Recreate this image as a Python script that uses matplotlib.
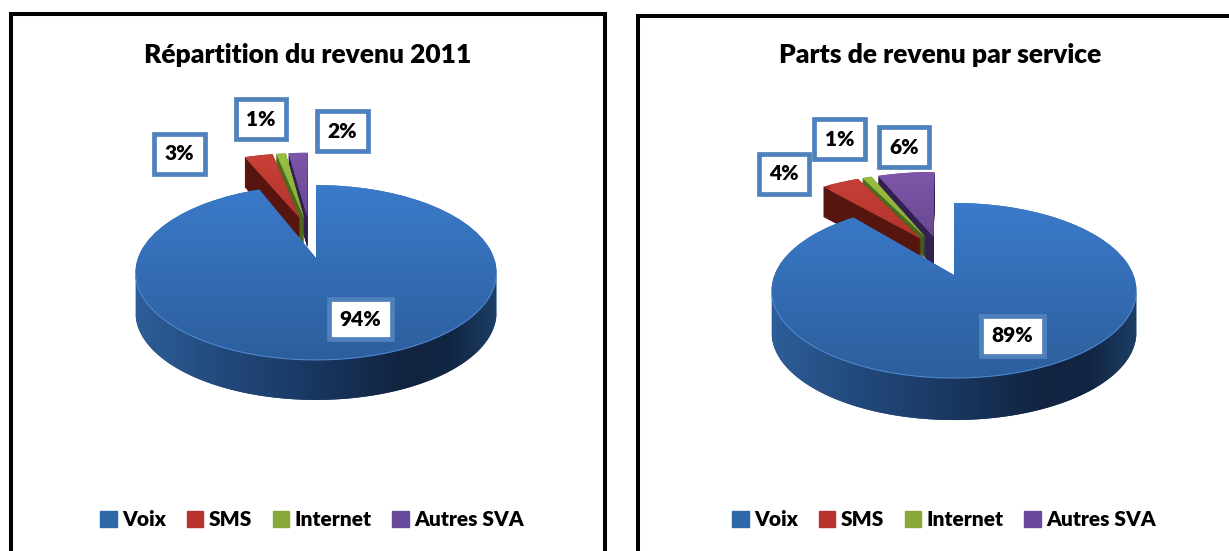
import numpy as np
import matplotlib
matplotlib.use("Agg")
import matplotlib.pyplot as plt
from matplotlib.transforms import Transform, Affine2D
from matplotlib.patches import Polygon, Patch
from matplotlib.colors import to_rgb

categories = ["Voix", "SMS", "Internet", "Autres SVA"]
values_left = [94, 3, 1, 2]
values_right = [89, 4, 1, 6]
title_left = "Répartition du revenu 2011"
title_right = "Parts de revenu par service"

top_grad = [("#3b7bcb", "#2c5e9c"), ("#cc4339", "#a92f28"), ("#9cc243", "#7fa335"), ("#8258ad", "#5e4487")]
side_cols = ["#1c3d6b", "#57150f", "#4c6a1d", "#33204f"]
leg_cols = ["#2f68a8", "#b5322e", "#88a93a", "#6a4a9a"]
side_stops = ["#2d5e98", "#234c80", "#1b3a66", "#11233f", "#122644", "#1d3e66"]
frame_blue = "#4f81bd"

plt.rcParams["font.family"] = ["Lato", "DejaVu Sans"]
plt.rcParams["font.weight"] = "heavy"


class Persp(Transform):
    input_dims = output_dims = 2
    has_inverse = False
    is_separable = False

    def __init__(self, cx, cy, b, a, k):
        super().__init__()
        self.p = (cx, cy, b, a, k)

    def transform_non_affine(self, v):
        v = np.asarray(v, float)
        cx, cy, b, a, k = self.p
        d = 1 + k * v[:, 1]
        return np.column_stack([cx + b * v[:, 0] / d, cy - a * v[:, 1] / d])


def grad(ax, c0, c1, extent, clip, z):
    c0, c1 = np.array(to_rgb(c0)), np.array(to_rgb(c1))
    t = np.linspace(0, 1, 64)[:, None, None]
    arr = c0[None, None, :] * (1 - t) + c1[None, None, :] * t
    im = ax.imshow(arr, extent=extent, origin="upper", aspect="auto", zorder=z, interpolation="bilinear")
    im.set_clip_path(clip)
    return im


def panel(pos, xlim, values, title, title_x, main, small, depth, labels_xy, frame, legend_x):
    fig_w = 1229
    ax = fig.add_axes([pos / fig_w, 0, (xlim[1] - xlim[0]) / fig_w, 1])
    z = 2
    e = 0.2
    explode = [0, e, e, e]
    P_main = Persp(*main)
    P_small = Persp(*small)

    def draw_pie():
        return ax.pie(values, explode=explode, startangle=90, counterclock=False,
                      colors=leg_cols, radius=1)[0]

    # extruded sides of the small slices, back to front
    for d in np.arange(30, 0, -0.5):
        w = draw_pie()
        w[0].remove()
        for i in (1, 2, 3):
            w[i].set_transform(P_small + Affine2D().translate(0, d) + ax.transData)
            w[i].set(facecolor=side_cols[i], edgecolor="none", linewidth=0, zorder=z)
    z += 1

    # small slices, top faces
    w = draw_pie()
    w[0].remove()
    for i in (3, 2, 1):
        w[i].set_transform(P_small + ax.transData)
        w[i].set(facecolor=top_grad[i][1], edgecolor="none", zorder=z)
        ex = (small[0] - 110, small[0] + 10, small[1] + 10, small[1] - 90)
        grad(ax, top_grad[i][0], top_grad[i][1], ex, w[i], z + 1)
    z += 2

    # front wall of the main slice
    th = np.radians(np.linspace(-12, -168, 200))
    rim = P_main.transform_non_affine(np.column_stack([np.cos(th), np.sin(th)]))
    low = rim + [0, depth]
    band = Polygon(np.vstack([rim, low[::-1]]), closed=True, facecolor=side_cols[0], edgecolor="none",
                   transform=ax.transData, zorder=z)
    ax.add_patch(band)
    x0, x1 = rim[:, 0].min(), rim[:, 0].max()
    stops = np.array([to_rgb(c) for c in side_stops])
    t = np.linspace(0, 1, 128)
    pos_st = [0, .2, .45, .75, .88, 1]
    arr = np.stack([np.interp(t, pos_st, stops[:, c]) for c in range(3)], axis=-1)[None, :, :]
    im = ax.imshow(arr, extent=(x0, x1, rim[:, 1].max() + depth + 2, rim[:, 1].min()),
                   origin="upper", aspect="auto", zorder=z + 1, interpolation="bilinear")
    im.set_clip_path(band)
    z += 2

    # main slice, top face
    w = draw_pie()
    for i in (1, 2, 3):
        w[i].remove()
    w[0].set_transform(P_main + ax.transData)
    w[0].set(facecolor="#3368ad", edgecolor="none", zorder=z)
    grad(ax, top_grad[0][0], top_grad[0][1],
         (x0 - 5, x1 + 5, main[1] + main[3] * 1.25, main[1] - main[3] * 0.9), w[0], z + 1)
    ax.plot(rim[:, 0], rim[:, 1], color="#4d86cf", lw=0.8, zorder=z + 2)
    z += 3

    # data labels
    for v, (lx, ly) in zip(values, labels_xy):
        ax.text(lx, ly, f"{v}%", ha="center", va="center", fontsize=15, color="black", zorder=z,
                bbox=dict(boxstyle="square,pad=0.5", facecolor="white", edgecolor=frame_blue, linewidth=3.4))

    ax.plot(frame[0], frame[1], color="black", lw=2.9, solid_joinstyle="miter", zorder=z)
    ax.text(title_x, 55, title, ha="center", va="center", fontsize=19, color="black", zorder=z)

    handles = [Patch(facecolor=c, edgecolor=c) for c in leg_cols]
    ax.legend(handles, categories, ncol=4, loc="center", frameon=False, fontsize=15,
              bbox_to_anchor=(legend_x, 519.5), bbox_transform=ax.transData,
              handlelength=0.8, handleheight=0.8, handletextpad=0.25, columnspacing=1.0,
              borderpad=0, borderaxespad=0)

    ax.set_aspect("auto")
    ax.set_xlim(*xlim)
    ax.set_ylim(551, 0)
    ax.axis("off")


fig = plt.figure(figsize=(12.29, 5.51), dpi=100, facecolor="white")

panel(0, (0, 620), values_left, title_left, 308,
      (316, 258, 178, 85, 0.166), (309.5, 233, 182, 80.5, 0.17), 40,
      [(360.5, 319), (179.5, 154), (261, 119), (342.5, 131)],
      ([11, 11, 605, 605], [560, 14, 14, 560]), 312)
panel(620, (620, 1229), values_right, title_right, 940,
      (954, 275, 179.5, 84.8, 0.177), (940, 252, 182, 80.5, 0.17), 42,
      [(1012.5, 336), (784, 174), (839.5, 139), (904, 147)],
      ([638, 638, 1240], [560, 16, 16]), 944)

fig.savefig("out.png", dpi=100, facecolor="white")
